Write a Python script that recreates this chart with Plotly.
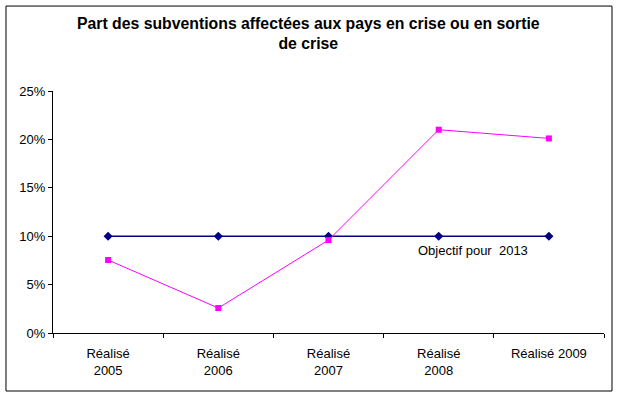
import plotly.graph_objects as go

categories = ["Réalisé<br>2005", "Réalisé<br>2006", "Réalisé<br>2007", "Réalisé<br>2008", "Réalisé 2009"]
realise = [0.0754, 0.0258, 0.096, 0.210, 0.201]
objectif = [0.10, 0.10, 0.10, 0.10, 0.10]
y_ticks = [0, 0.05, 0.10, 0.15, 0.20, 0.25]
y_labels = ["0%", "5%", "10%", "15%", "20%", "25%"]

fig = go.Figure()
fig.add_trace(go.Scatter(
    x=categories, y=objectif, mode="lines+markers", name="Objectif",
    line=dict(color="#000080", width=1.5),
    marker=dict(symbol="diamond", size=7, color="#000080"),
))
fig.add_trace(go.Scatter(
    x=categories, y=realise, mode="lines+markers", name="Réalisé",
    line=dict(color="#FF00FF", width=1),
    marker=dict(symbol="square", size=6, color="#FF00FF"),
))

font = "Liberation Sans, Arial, sans-serif"
fig.update_layout(
    width=619, height=396,
    margin=dict(l=53, r=15, t=91, b=63),
    paper_bgcolor="white", plot_bgcolor="white",
    showlegend=False,
    font=dict(family=font, size=13, color="black"),
    title=dict(
        text="<b>Part des subventions affectées aux pays en crise ou en sortie<br>de crise</b>",
        x=0.498, xref="container", xanchor="center",
        y=0.927, yref="container", yanchor="top",
        font=dict(family=font, size=15.8, color="black"),
    ),
    xaxis=dict(
        type="category", range=[-0.5, 4.5],
        showline=True, linecolor="black", linewidth=1,
        ticks="outside", tickson="boundaries", ticklen=4, tickcolor="black",
        showgrid=False, zeroline=False,
        tickfont=dict(size=13), ticklabelstandoff=8,
    ),
    yaxis=dict(
        range=[0, 0.25], tickvals=y_ticks, ticktext=y_labels,
        showline=True, linecolor="black", linewidth=1,
        ticks="outside", ticklen=4, tickcolor="black",
        showgrid=False, zeroline=False,
        tickfont=dict(size=13),
    ),
    annotations=[dict(
        x=3.31, y=0.085, xref="x", yref="y",
        text="Objectif pour\u00a0\u00a02013", showarrow=False,
        font=dict(family=font, size=13, color="black"),
    )],
    shapes=[dict(
        type="rect", xref="paper", yref="paper",
        x0=-0.0853, x1=1.0145, y0=-0.2397, y1=1.351,
        line=dict(color="black", width=1), fillcolor="rgba(0,0,0,0)",
    )],
)

fig.write_html("out.html", config={"displayModeBar": False},
               post_script="document.body.style.margin='0';")
